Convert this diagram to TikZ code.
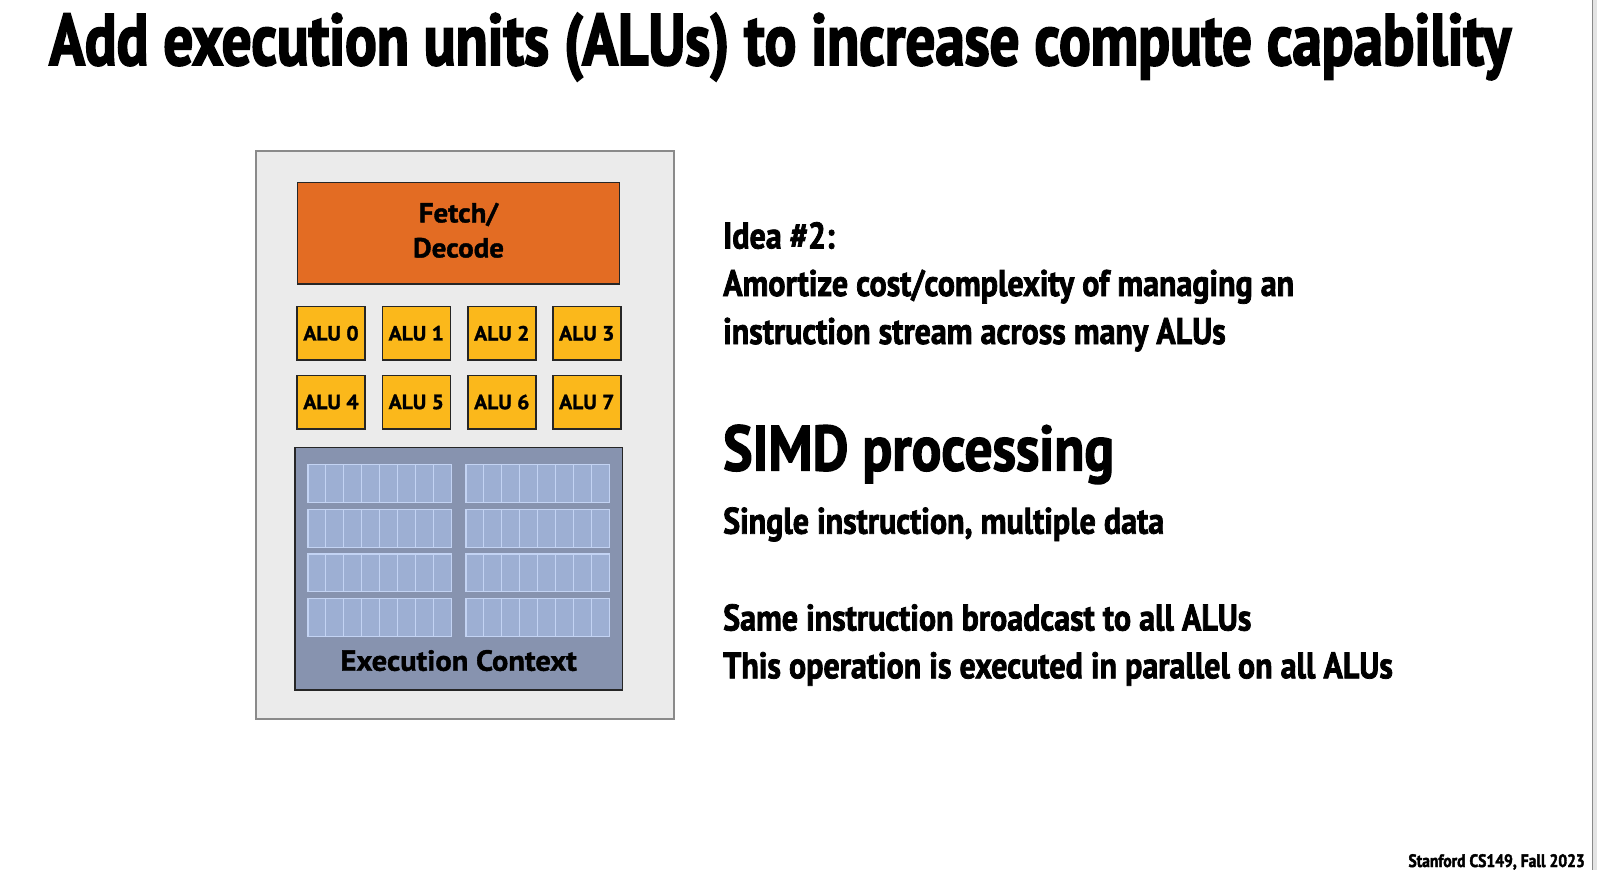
\documentclass[tikz,border=0pt]{standalone}
\usepackage{fontspec}
\setmainfont{PT Sans}
\newfontfamily\titlefont[FakeStretch=0.808,BoldFeatures={FakeBold=2.4}]{PT Sans}
\newfontfamily\slidefont[FakeStretch=0.865,BoldFeatures={FakeBold=2}]{PT Sans}
\newfontfamily\labelfont[FakeStretch=1.05,BoldFeatures={FakeBold=1.4}]{PT Sans}
\usetikzlibrary{positioning}

\definecolor{coregray}{HTML}{EBEBEB}
\definecolor{coreline}{HTML}{8A8A8A}
\definecolor{fetchorange}{HTML}{E36C23}
\definecolor{alugold}{HTML}{FBB81B}
\definecolor{ctxblue}{HTML}{8793AF}
\definecolor{cellblue}{HTML}{9DAFD3}
\definecolor{cellline}{HTML}{C3D3F3}
\definecolor{darkline}{HTML}{262626}
\definecolor{stripgray}{HTML}{E4E4E4}

\begin{document}
\begin{tikzpicture}[x=1pt,y=-1pt]
      \tikzstyle{unit}=[rectangle,draw=darkline,line width=1.5pt,inner sep=0pt]
      \tikzstyle{alu}=[unit,fill=alugold,minimum width=68pt,minimum height=53.5pt,font=\labelfont\bfseries\fontsize{20.5}{22}\selectfont]
      \tikzstyle{cell}=[rectangle,draw=cellline,fill=cellblue,line width=1.2pt,minimum width=17.96pt,minimum height=37.7pt,inner sep=0pt]
      \tikzstyle{slide}=[anchor=base west,inner sep=0pt,font=\slidefont\bfseries\fontsize{37}{40}\selectfont]
      \useasboundingbox (0,0) rectangle (1597,870);
      \fill[white] (0,0) rectangle (1597,870);
      \fill[stripgray] (1592,0) rectangle (1597,870);
      \draw[coreline,line width=1pt] (1592,0) -- (1592,870);

      % title
      \node[slide,font=\titlefont\bfseries\fontsize{73}{80}\selectfont] (title) at (49,65)
        {Add execution units (ALUs) to increase compute capability};

      % the core
      \node[rectangle,draw=coreline,fill=coregray,line width=1.5pt,anchor=north west,
        minimum width=418pt,minimum height=568pt,inner sep=0pt] (core) at (255,150) {};
      \node[unit,fill=fetchorange,minimum width=321.6pt,minimum height=101.3pt] (fetch) at (458.5,233.3) {};
      \node[align=center,inner sep=0pt,yshift=3pt,font=\labelfont\bfseries\fontsize{27.5}{35}\selectfont]
        (fetchlabel) at (fetch) {Fetch/\\Decode};
      \foreach \i/\x in {0/331,1/416.3,2/501.8,3/586.8}
        \node[alu] (alu\i) at (\x,333.3) {ALU \i};
      \foreach \i/\x in {4/331,5/416.3,6/501.8,7/586.8}
        \node[alu] (alu\i) at (\x,402) {ALU \i};

      % execution context with its register cells
      \node[unit,fill=ctxblue,minimum width=327.3pt,minimum height=242.7pt] (ctx) at (458.7,568.7) {};
      \foreach \b/\bx in {0/307.3,1/465.3}
        \foreach \r/\ry in {0/464,1/509,2/553.3,3/598}
          \foreach \c in {0,...,7}
            \node[cell,anchor=north west] (cell\b\r\c) at (\bx+\c*17.96,\ry) {};
      \node[anchor=base,inner sep=0pt,font=\labelfont\bfseries\fontsize{29}{32}\selectfont] (ctxlabel)
        at (458.7,670.7) {Execution Context};

      % text on the right
      \node[slide] (idea) at (723,248.5) {Idea \#2:};
      \node[slide] (amort) at (723,296) {Amortize cost/complexity of managing an};
      \node[slide] (stream) at (723,344) {instruction stream across many ALUs};
      \node[slide,font=\slidefont\bfseries\fontsize{64}{70}\selectfont] (simd) at (723,470.5) {SIMD processing};
      \node[slide] (single) at (723,533.7) {Single instruction, multiple data};
      \node[slide] (same) at (723,630.5) {Same instruction broadcast to all ALUs};
      \node[slide] (par) at (723,678.3) {This operation is executed in parallel on all ALUs};

      \node[anchor=base east,inner sep=0pt,font=\slidefont\bfseries\fontsize{18}{20}\selectfont] (footer)
        at (1585,867) {Stanford CS149, Fall 2023};
\end{tikzpicture}
\end{document}
